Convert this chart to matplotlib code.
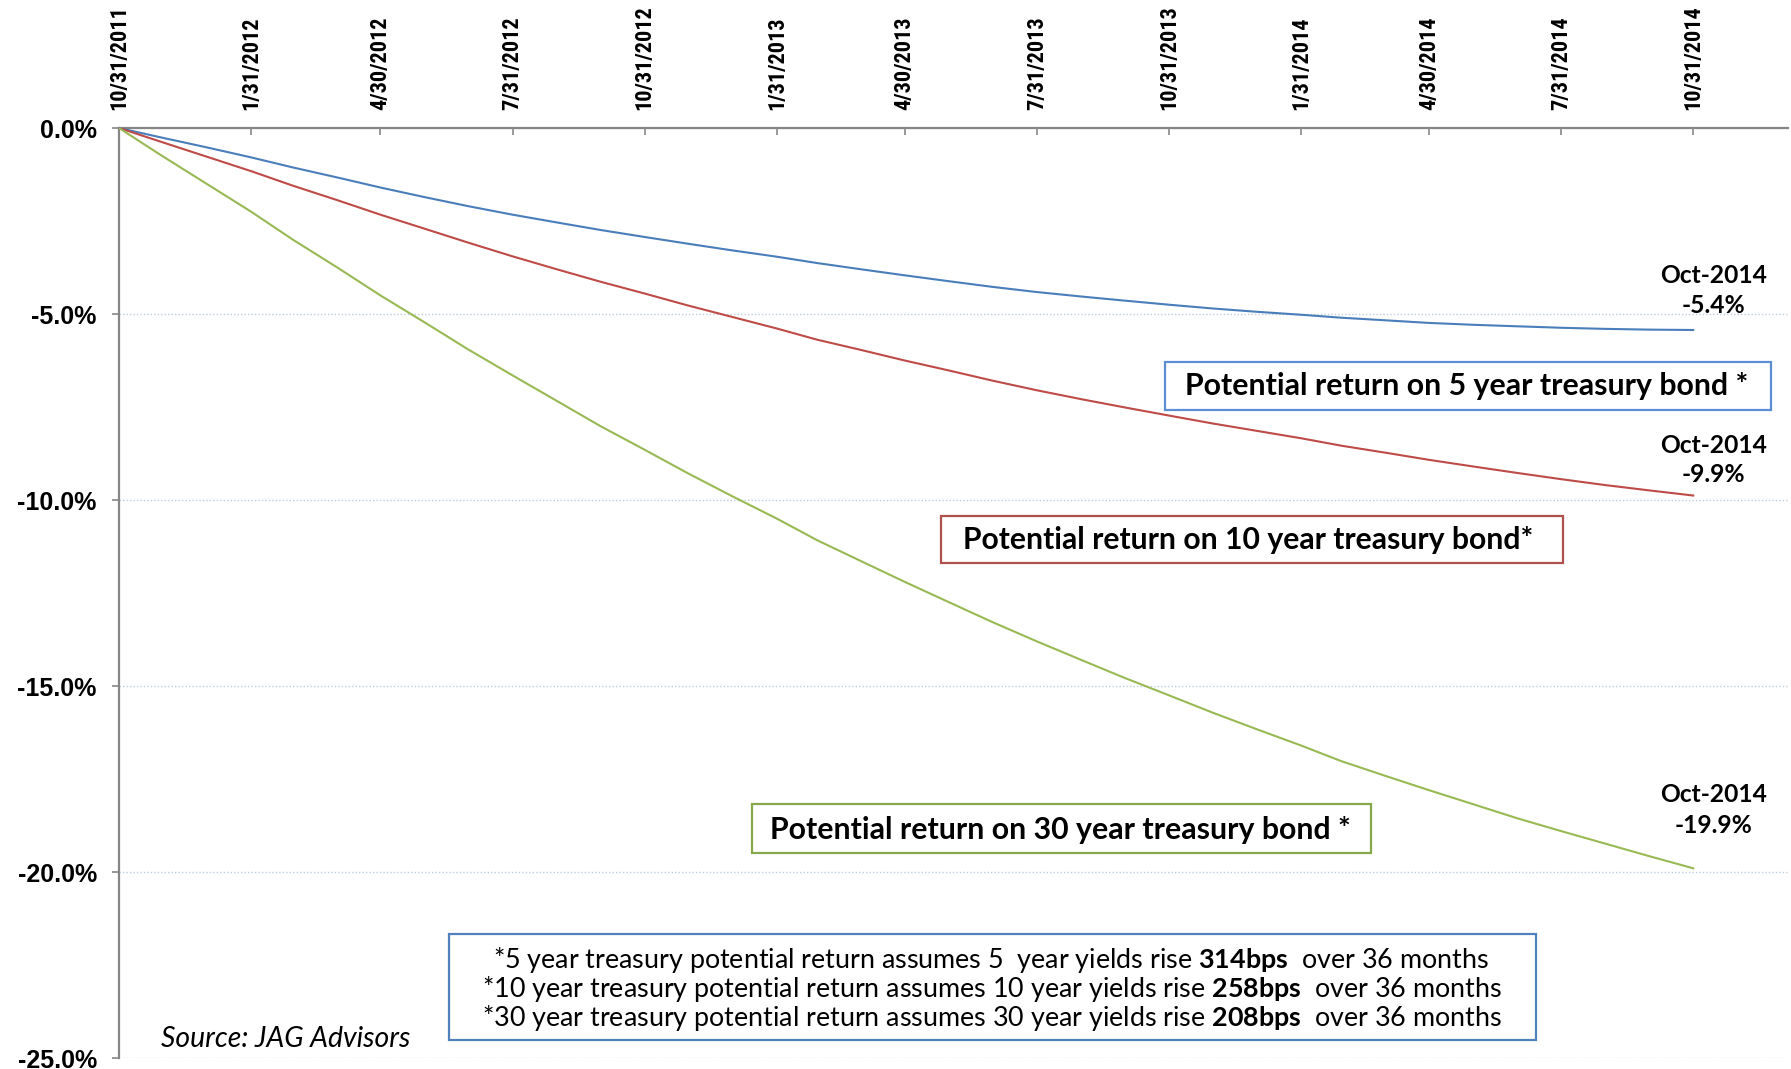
import matplotlib
matplotlib.use("Agg")
import matplotlib.pyplot as plt
import matplotlib.font_manager as fm
from matplotlib.patches import Rectangle
from matplotlib.ticker import FuncFormatter
import pandas as pd

# ---------------- data ----------------
start_date = "2011-10-31"
n_months = 37
try:
    dates = pd.date_range(start_date, periods=n_months, freq="ME")
except ValueError:
    dates = pd.date_range(start_date, periods=n_months, freq="M")

ret_5yr = [0.0, -0.26, -0.52, -0.79, -1.06, -1.33, -1.60, -1.86, -2.10, -2.33,
           -2.54, -2.74, -2.93, -3.11, -3.29, -3.46, -3.63, -3.80, -3.96,
           -4.12, -4.27, -4.41, -4.53, -4.64, -4.75, -4.85, -4.94, -5.02,
           -5.10, -5.17, -5.24, -5.29, -5.33, -5.37, -5.40, -5.42, -5.43]
ret_10yr = [0.0, -0.38, -0.77, -1.16, -1.55, -1.94, -2.33, -2.71, -3.08, -3.45,
            -3.80, -4.13, -4.45, -4.77, -5.08, -5.39, -5.69, -5.97, -6.25,
            -6.52, -6.79, -7.05, -7.29, -7.51, -7.73, -7.94, -8.14, -8.34,
            -8.54, -8.73, -8.92, -9.10, -9.27, -9.44, -9.60, -9.74, -9.88]
ret_30yr = [0.0, -0.75, -1.50, -2.25, -3.00, -3.75, -4.50, -5.23, -5.95, -6.65,
            -7.34, -8.01, -8.65, -9.28, -9.90, -10.50, -11.08, -11.65, -12.20,
            -12.75, -13.28, -13.80, -14.30, -14.78, -15.25, -15.71, -16.16, -16.60,
            -17.02, -17.42, -17.80, -18.18, -18.55, -18.90, -19.24, -19.57, -19.90]

tick_dates = ["2011-10-31", "2012-01-31", "2012-04-30", "2012-07-31", "2012-10-31",
              "2013-01-31", "2013-04-30", "2013-07-31", "2013-10-31", "2014-01-31",
              "2014-04-30", "2014-07-31", "2014-10-31"]
tick_labels = ["10/31/2011", "1/31/2012", "4/30/2012", "7/31/2012", "10/31/2012",
               "1/31/2013", "4/30/2013", "7/31/2013", "10/31/2013", "1/31/2014",
               "4/30/2014", "7/31/2014", "10/31/2014"]
y_ticks = [0, -5, -10, -15, -20, -25]
end_label = "Oct-2014"
box_labels = ["Potential return on 5 year treasury bond *",
              "Potential return on 10 year treasury bond*",
              "Potential return on 30 year treasury bond *"]
footnotes = [r"*5 year treasury potential return assumes 5  year yields rise $\mathbf{314bps}$  over 36 months",
             r"*10 year treasury potential return assumes 10 year yields rise $\mathbf{258bps}$  over 36 months",
             r"*30 year treasury potential return assumes 30 year yields rise $\mathbf{208bps}$  over 36 months"]
source_text = "Source: JAG Advisors"

# ---------------- style ----------------
plt.rcParams["mathtext.fontset"] = "custom"
plt.rcParams["mathtext.rm"] = "Lato"
plt.rcParams["mathtext.bf"] = "Lato:bold"
plt.rcParams["mathtext.it"] = "Lato:italic"

installed = {f.name for f in fm.fontManager.ttflist}
x_family = "Liberation Sans"
for cand in ["Liberation Sans Narrow", "Arial Narrow", "Roboto Condensed",
             "Open Sans Condensed", "Nimbus Sans Narrow"]:
    if cand in installed:
        x_family = cand
        break

col_5 = "#4A7EBB"
col_10 = "#BE4B48"
col_30 = "#98B954"
axis_col = "#868686"

W, H = 1791, 1069
fig = plt.figure(figsize=(W / 100, H / 100), dpi=100)
fig.patch.set_facecolor("white")


def fx(x):
    return x / W


def fy(y):
    return 1 - y / H


ax = fig.add_axes([fx(119), fy(1058), (1788 - 119) / W, (1058 - 128) / H])

ax.plot(dates, ret_5yr, color=col_5, lw=1.5, zorder=3)
ax.plot(dates, ret_10yr, color=col_10, lw=1.5, zorder=3)
ax.plot(dates, ret_30yr, color=col_30, lw=1.5, zorder=3)

ax.set_xlim(pd.Timestamp("2011-10-31"), pd.Timestamp("2015-01-05"))
ax.set_ylim(-25, 0)

ax.xaxis.tick_top()
ax.set_xticks(pd.to_datetime(tick_dates))
ax.set_xticklabels(tick_labels, rotation=90, fontsize=15, fontweight="bold",
                   family=x_family)
ax.tick_params(axis="x", direction="in", length=5, width=1.2, color=axis_col,
               pad=13, top=True, bottom=False, labeltop=True, labelbottom=False)

ax.set_yticks(y_ticks)
ax.yaxis.set_major_formatter(FuncFormatter(lambda v, p: f"{abs(v):.1f}%" if v == 0 else f"{v:.1f}%"))
for lab in ax.get_yticklabels():
    lab.set_fontsize(18)
    lab.set_fontweight("bold")
    lab.set_family("Liberation Sans")
ax.tick_params(axis="y", direction="out", length=5, width=1.2, color=axis_col, pad=11)

ax.yaxis.grid(True, color="#BFCDDE", linestyle=(0, (1, 1.5)), lw=1)
ax.set_axisbelow(True)
for s in ["right", "bottom"]:
    ax.spines[s].set_visible(False)
for s in ["top", "left"]:
    ax.spines[s].set_color(axis_col)
    ax.spines[s].set_linewidth(1.6)

# end-of-series labels
texts_fit = []
series = [(ret_5yr, (20, 54), (20, 24)),
          (ret_10yr, (20, 50), (20, 21)),
          (ret_30yr, (20, 74), (20, 43))]
for vals, off1, off2 in series:
    t1 = ax.annotate(end_label, xy=(dates[-1], vals[-1]), xytext=off1,
                     textcoords="offset pixels", ha="center", va="center",
                     fontweight="bold", family="Lato", fontsize=18)
    t2 = ax.annotate(f"{vals[-1]:.1f}%", xy=(dates[-1], vals[-1]), xytext=off2,
                     textcoords="offset pixels", ha="center", va="center",
                     fontweight="bold", family="Lato", fontsize=18)
    texts_fit.append((t1, 107, [t2], None))

# annotation boxes
boxes = [((1165, 362, 1771, 410), "#5B8ED3", box_labels[0], (1467, 386), 562),
         ((941, 516, 1563, 563), "#B0504E", box_labels[1], (1248, 540), 571),
         ((752, 804, 1371, 853), "#86A84A", box_labels[2], (1060, 830), 579)]
for (x0, y0, x1, y1), ec, txt, (cx, cy), tw in boxes:
    fig.add_artist(Rectangle((fx(x0), fy(y1)), (x1 - x0) / W, (y1 - y0) / H,
                             transform=fig.transFigure, fill=False, edgecolor=ec,
                             lw=1.6, zorder=5))
    t = fig.text(fx(cx), fy(cy), txt, ha="center", va="center", fontsize=20,
                 fontweight="bold", family="Lato", zorder=6)
    texts_fit.append((t, tw, [], None))

# footnote box
fig.add_artist(Rectangle((fx(449), fy(1040)), (1536 - 449) / W, (1040 - 934) / H,
                         transform=fig.transFigure, fill=False, edgecolor="#4F81BD",
                         lw=1.6, zorder=5))
foot_pos = [(991, 960, 1000), (992, 989, 1024), (992, 1018, 1024)]
for line, (cx, cy, tw) in zip(footnotes, foot_pos):
    t = fig.text(fx(cx), fy(cy), line, ha="center", va="center", fontsize=15,
                 family="Lato", zorder=6)
    texts_fit.append((t, tw, [], 19.5))

src = fig.text(fx(161), fy(1039), source_text, ha="left", va="center", fontsize=16,
               family="Lato", style="italic")
texts_fit.append((src, 249, [], None))

fig.canvas.draw()
renderer = fig.canvas.get_renderer()
for t, target, extra, cap in texts_fit:
    bb = t.get_window_extent(renderer)
    fs = t.get_fontsize() * target / bb.width
    if cap is not None:
        fs = min(fs, cap)
    t.set_fontsize(fs)
    for e in extra:
        e.set_fontsize(fs)

# fit rotated x tick labels to the reference label length
xlabs = ax.get_xticklabels()
bb = xlabs[0].get_window_extent(renderer)
xfs = xlabs[0].get_fontsize() * 105 / bb.height
for lab in xlabs:
    lab.set_fontsize(xfs)

fig.savefig("out.png", dpi=100, facecolor="white")
